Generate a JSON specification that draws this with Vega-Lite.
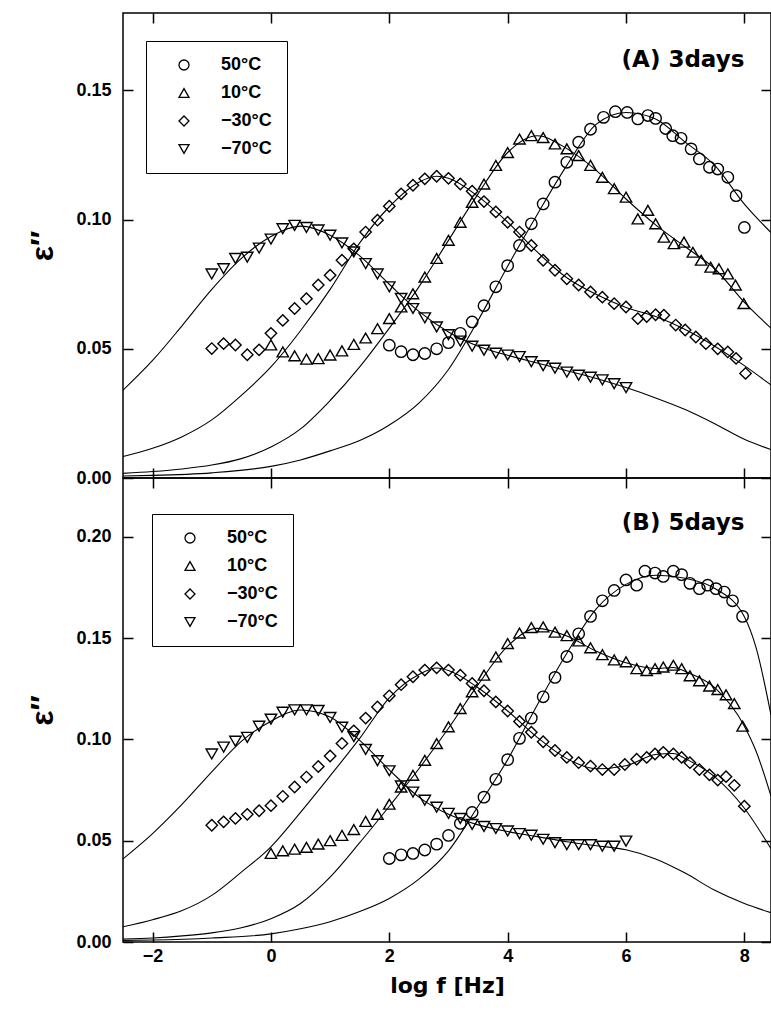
{
  "$schema": "https://vega.github.io/schema/vega-lite/v6.json",
  "background": "white",
  "padding": {"left": 26, "top": 11, "right": 0, "bottom": 5},
  "spacing": 0,
  "bounds": "flush",
  "config": {
    "view": {"stroke": "black", "strokeWidth": 1.5},
    "axis": {
      "grid": false, "domain": false, "offset": -10, "tickSize": 10, "tickWidth": 1.5, "tickColor": "black",
      "labelFont": "Liberation Sans", "labelFontWeight": "bold", "labelFontSize": 18, "labelColor": "black", "labelPadding": 12,
      "titleColor": "black"
    },
    "legend": {
      "strokeColor": "black", "padding": 15, "symbolOffset": 14, "labelOffset": 28, "rowPadding": 10,
      "labelFont": "Liberation Sans", "labelFontWeight": "bold", "labelFontSize": 18, "labelColor": "black",
      "symbolSize": 100, "symbolStrokeColor": "black", "symbolStrokeWidth": 1.3, "symbolFillColor": "transparent"
    }
  },
  "resolve": {"scale": {"shape": "independent"}},
  "datasets": {
    "labelA": [{"x": 8.0, "y": 0.162, "label": "(A) 3days"}],
    "labelB": [{"x": 8.0, "y": 0.207, "label": "(B) 5days"}],
    "curveA": [
      {"series": "-70", "x": -2.5, "y": 0.034}, {"series": "-70", "x": -2.0, "y": 0.0455}, {"series": "-70", "x": -1.5, "y": 0.059}, {"series": "-70", "x": -1.0, "y": 0.073}, {"series": "-70", "x": -0.5, "y": 0.085}, {"series": "-70", "x": 0.0, "y": 0.0935}, {"series": "-70", "x": 0.5, "y": 0.0975}, {"series": "-70", "x": 1.0, "y": 0.094}, {"series": "-70", "x": 1.5, "y": 0.086}, {"series": "-70", "x": 2.0, "y": 0.075}, {"series": "-70", "x": 2.5, "y": 0.0645}, {"series": "-70", "x": 3.0, "y": 0.0565}, {"series": "-70", "x": 3.5, "y": 0.051}, {"series": "-70", "x": 4.0, "y": 0.0475}, {"series": "-70", "x": 4.5, "y": 0.0445}, {"series": "-70", "x": 5.0, "y": 0.0415}, {"series": "-70", "x": 5.5, "y": 0.0385}, {"series": "-70", "x": 6.0, "y": 0.035}, {"series": "-70", "x": 6.5, "y": 0.031}, {"series": "-70", "x": 7.0, "y": 0.0265}, {"series": "-70", "x": 7.5, "y": 0.021}, {"series": "-70", "x": 8.0, "y": 0.015}, {"series": "-70", "x": 8.45, "y": 0.011},
      {"series": "-30", "x": -2.5, "y": 0.0083}, {"series": "-30", "x": -2.0, "y": 0.0115}, {"series": "-30", "x": -1.5, "y": 0.016}, {"series": "-30", "x": -1.0, "y": 0.0225}, {"series": "-30", "x": -0.5, "y": 0.032}, {"series": "-30", "x": 0.0, "y": 0.043}, {"series": "-30", "x": 0.5, "y": 0.057}, {"series": "-30", "x": 1.0, "y": 0.073}, {"series": "-30", "x": 1.5, "y": 0.091}, {"series": "-30", "x": 2.0, "y": 0.105}, {"series": "-30", "x": 2.5, "y": 0.1145}, {"series": "-30", "x": 2.8, "y": 0.1168}, {"series": "-30", "x": 3.0, "y": 0.116}, {"series": "-30", "x": 3.5, "y": 0.109}, {"series": "-30", "x": 4.0, "y": 0.099}, {"series": "-30", "x": 4.5, "y": 0.0875}, {"series": "-30", "x": 5.0, "y": 0.0775}, {"series": "-30", "x": 5.5, "y": 0.071}, {"series": "-30", "x": 6.0, "y": 0.066}, {"series": "-30", "x": 6.5, "y": 0.0625}, {"series": "-30", "x": 7.0, "y": 0.0575}, {"series": "-30", "x": 7.5, "y": 0.051}, {"series": "-30", "x": 8.0, "y": 0.0435}, {"series": "-30", "x": 8.45, "y": 0.036},
      {"series": "10", "x": -2.5, "y": 0.0018}, {"series": "10", "x": -2.0, "y": 0.0025}, {"series": "10", "x": -1.5, "y": 0.0035}, {"series": "10", "x": -1.0, "y": 0.005}, {"series": "10", "x": -0.5, "y": 0.0075}, {"series": "10", "x": 0.0, "y": 0.012}, {"series": "10", "x": 0.5, "y": 0.019}, {"series": "10", "x": 1.0, "y": 0.030}, {"series": "10", "x": 1.5, "y": 0.043}, {"series": "10", "x": 2.0, "y": 0.058}, {"series": "10", "x": 2.5, "y": 0.074}, {"series": "10", "x": 3.0, "y": 0.092}, {"series": "10", "x": 3.5, "y": 0.110}, {"series": "10", "x": 4.0, "y": 0.126}, {"series": "10", "x": 4.5, "y": 0.1325}, {"series": "10", "x": 5.0, "y": 0.1275}, {"series": "10", "x": 5.5, "y": 0.119}, {"series": "10", "x": 6.0, "y": 0.108}, {"series": "10", "x": 6.5, "y": 0.098}, {"series": "10", "x": 7.0, "y": 0.0895}, {"series": "10", "x": 7.5, "y": 0.081}, {"series": "10", "x": 8.0, "y": 0.068}, {"series": "10", "x": 8.45, "y": 0.058},
      {"series": "50", "x": -2.5, "y": 0.0008}, {"series": "50", "x": -2.0, "y": 0.001}, {"series": "50", "x": -1.0, "y": 0.002}, {"series": "50", "x": 0.0, "y": 0.0045}, {"series": "50", "x": 0.5, "y": 0.007}, {"series": "50", "x": 1.0, "y": 0.0105}, {"series": "50", "x": 1.5, "y": 0.0145}, {"series": "50", "x": 2.0, "y": 0.0205}, {"series": "50", "x": 2.5, "y": 0.029}, {"series": "50", "x": 3.0, "y": 0.042}, {"series": "50", "x": 3.5, "y": 0.061}, {"series": "50", "x": 4.0, "y": 0.082}, {"series": "50", "x": 4.5, "y": 0.102}, {"series": "50", "x": 5.0, "y": 0.121}, {"series": "50", "x": 5.5, "y": 0.137}, {"series": "50", "x": 6.0, "y": 0.1415}, {"series": "50", "x": 6.5, "y": 0.139}, {"series": "50", "x": 7.0, "y": 0.130}, {"series": "50", "x": 7.5, "y": 0.121}, {"series": "50", "x": 8.0, "y": 0.106}, {"series": "50", "x": 8.45, "y": 0.095}
    ],
    "curveB": [
      {"series": "-70", "x": -2.5, "y": 0.041}, {"series": "-70", "x": -2.0, "y": 0.0535}, {"series": "-70", "x": -1.5, "y": 0.068}, {"series": "-70", "x": -1.0, "y": 0.084}, {"series": "-70", "x": -0.5, "y": 0.099}, {"series": "-70", "x": 0.0, "y": 0.109}, {"series": "-70", "x": 0.5, "y": 0.1145}, {"series": "-70", "x": 1.0, "y": 0.111}, {"series": "-70", "x": 1.5, "y": 0.0995}, {"series": "-70", "x": 2.0, "y": 0.085}, {"series": "-70", "x": 2.5, "y": 0.0715}, {"series": "-70", "x": 3.0, "y": 0.063}, {"series": "-70", "x": 3.5, "y": 0.0578}, {"series": "-70", "x": 4.0, "y": 0.0545}, {"series": "-70", "x": 4.5, "y": 0.052}, {"series": "-70", "x": 5.0, "y": 0.0495}, {"series": "-70", "x": 5.5, "y": 0.0475}, {"series": "-70", "x": 6.0, "y": 0.0455}, {"series": "-70", "x": 6.5, "y": 0.041}, {"series": "-70", "x": 7.0, "y": 0.034}, {"series": "-70", "x": 7.5, "y": 0.0255}, {"series": "-70", "x": 8.0, "y": 0.019}, {"series": "-70", "x": 8.45, "y": 0.0145},
      {"series": "-30", "x": -2.5, "y": 0.0075}, {"series": "-30", "x": -2.0, "y": 0.011}, {"series": "-30", "x": -1.5, "y": 0.0155}, {"series": "-30", "x": -1.0, "y": 0.023}, {"series": "-30", "x": -0.5, "y": 0.0345}, {"series": "-30", "x": 0.0, "y": 0.047}, {"series": "-30", "x": 0.5, "y": 0.064}, {"series": "-30", "x": 1.0, "y": 0.082}, {"series": "-30", "x": 1.5, "y": 0.1005}, {"series": "-30", "x": 2.0, "y": 0.1205}, {"series": "-30", "x": 2.5, "y": 0.132}, {"series": "-30", "x": 2.8, "y": 0.1352}, {"series": "-30", "x": 3.0, "y": 0.134}, {"series": "-30", "x": 3.5, "y": 0.1255}, {"series": "-30", "x": 4.0, "y": 0.114}, {"series": "-30", "x": 4.5, "y": 0.101}, {"series": "-30", "x": 5.0, "y": 0.0905}, {"series": "-30", "x": 5.5, "y": 0.0855}, {"series": "-30", "x": 6.0, "y": 0.087}, {"series": "-30", "x": 6.5, "y": 0.0925}, {"series": "-30", "x": 6.8, "y": 0.093}, {"series": "-30", "x": 7.0, "y": 0.0905}, {"series": "-30", "x": 7.5, "y": 0.0815}, {"series": "-30", "x": 8.0, "y": 0.066}, {"series": "-30", "x": 8.45, "y": 0.046},
      {"series": "10", "x": -2.5, "y": 0.0015}, {"series": "10", "x": -2.0, "y": 0.002}, {"series": "10", "x": -1.5, "y": 0.003}, {"series": "10", "x": -1.0, "y": 0.0045}, {"series": "10", "x": -0.5, "y": 0.007}, {"series": "10", "x": 0.0, "y": 0.0115}, {"series": "10", "x": 0.5, "y": 0.019}, {"series": "10", "x": 1.0, "y": 0.032}, {"series": "10", "x": 1.5, "y": 0.049}, {"series": "10", "x": 2.0, "y": 0.067}, {"series": "10", "x": 2.5, "y": 0.0855}, {"series": "10", "x": 3.0, "y": 0.1055}, {"series": "10", "x": 3.5, "y": 0.127}, {"series": "10", "x": 4.0, "y": 0.146}, {"series": "10", "x": 4.5, "y": 0.1548}, {"series": "10", "x": 5.0, "y": 0.151}, {"series": "10", "x": 5.5, "y": 0.1435}, {"series": "10", "x": 6.0, "y": 0.1378}, {"series": "10", "x": 6.5, "y": 0.135}, {"series": "10", "x": 6.8, "y": 0.1355}, {"series": "10", "x": 7.0, "y": 0.1335}, {"series": "10", "x": 7.5, "y": 0.1255}, {"series": "10", "x": 8.0, "y": 0.1065}, {"series": "10", "x": 8.2, "y": 0.094}, {"series": "10", "x": 8.45, "y": 0.072},
      {"series": "50", "x": -2.5, "y": 0.0008}, {"series": "50", "x": -2.0, "y": 0.001}, {"series": "50", "x": -1.0, "y": 0.002}, {"series": "50", "x": 0.0, "y": 0.004}, {"series": "50", "x": 0.5, "y": 0.0065}, {"series": "50", "x": 1.0, "y": 0.010}, {"series": "50", "x": 1.5, "y": 0.015}, {"series": "50", "x": 2.0, "y": 0.0215}, {"series": "50", "x": 2.5, "y": 0.031}, {"series": "50", "x": 3.0, "y": 0.045}, {"series": "50", "x": 3.5, "y": 0.067}, {"series": "50", "x": 4.0, "y": 0.090}, {"series": "50", "x": 4.5, "y": 0.117}, {"series": "50", "x": 5.0, "y": 0.1425}, {"series": "50", "x": 5.5, "y": 0.1645}, {"series": "50", "x": 6.0, "y": 0.1765}, {"series": "50", "x": 6.5, "y": 0.181}, {"series": "50", "x": 7.0, "y": 0.1795}, {"series": "50", "x": 7.5, "y": 0.1745}, {"series": "50", "x": 8.0, "y": 0.1605}, {"series": "50", "x": 8.2, "y": 0.145}, {"series": "50", "x": 8.45, "y": 0.112}
    ],
    "ptsA": [
      {"series": "50°C", "x": 2.0, "y": 0.0514}, {"series": "50°C", "x": 2.2, "y": 0.0489}, {"series": "50°C", "x": 2.4, "y": 0.0477}, {"series": "50°C", "x": 2.6, "y": 0.0482}, {"series": "50°C", "x": 2.8, "y": 0.05}, {"series": "50°C", "x": 3.0, "y": 0.0524}, {"series": "50°C", "x": 3.2, "y": 0.056}, {"series": "50°C", "x": 3.4, "y": 0.0604}, {"series": "50°C", "x": 3.6, "y": 0.0667}, {"series": "50°C", "x": 3.8, "y": 0.074}, {"series": "50°C", "x": 4.0, "y": 0.0822}, {"series": "50°C", "x": 4.2, "y": 0.090}, {"series": "50°C", "x": 4.4, "y": 0.0984}, {"series": "50°C", "x": 4.6, "y": 0.1061}, {"series": "50°C", "x": 4.8, "y": 0.1145}, {"series": "50°C", "x": 5.0, "y": 0.1222}, {"series": "50°C", "x": 5.2, "y": 0.130}, {"series": "50°C", "x": 5.4, "y": 0.135}, {"series": "50°C", "x": 5.62, "y": 0.1396}, {"series": "50°C", "x": 5.82, "y": 0.1418}, {"series": "50°C", "x": 6.02, "y": 0.1415}, {"series": "50°C", "x": 6.2, "y": 0.139}, {"series": "50°C", "x": 6.37, "y": 0.1403}, {"series": "50°C", "x": 6.5, "y": 0.1392}, {"series": "50°C", "x": 6.67, "y": 0.1353}, {"series": "50°C", "x": 6.79, "y": 0.1325}, {"series": "50°C", "x": 6.93, "y": 0.1315}, {"series": "50°C", "x": 7.1, "y": 0.1274}, {"series": "50°C", "x": 7.24, "y": 0.1235}, {"series": "50°C", "x": 7.41, "y": 0.1203}, {"series": "50°C", "x": 7.55, "y": 0.1196}, {"series": "50°C", "x": 7.72, "y": 0.1164}, {"series": "50°C", "x": 7.86, "y": 0.1093}, {"series": "50°C", "x": 8.0, "y": 0.097},
      {"series": "10°C", "x": 0.0, "y": 0.0515}, {"series": "10°C", "x": 0.2, "y": 0.0488}, {"series": "10°C", "x": 0.4, "y": 0.0473}, {"series": "10°C", "x": 0.6, "y": 0.046}, {"series": "10°C", "x": 0.8, "y": 0.0462}, {"series": "10°C", "x": 1.0, "y": 0.0476}, {"series": "10°C", "x": 1.2, "y": 0.0492}, {"series": "10°C", "x": 1.4, "y": 0.0517}, {"series": "10°C", "x": 1.6, "y": 0.0542}, {"series": "10°C", "x": 1.8, "y": 0.0578}, {"series": "10°C", "x": 2.0, "y": 0.0617}, {"series": "10°C", "x": 2.2, "y": 0.0662}, {"series": "10°C", "x": 2.4, "y": 0.0713}, {"series": "10°C", "x": 2.6, "y": 0.0778}, {"series": "10°C", "x": 2.8, "y": 0.085}, {"series": "10°C", "x": 3.0, "y": 0.092}, {"series": "10°C", "x": 3.2, "y": 0.099}, {"series": "10°C", "x": 3.4, "y": 0.1067}, {"series": "10°C", "x": 3.6, "y": 0.1138}, {"series": "10°C", "x": 3.8, "y": 0.121}, {"series": "10°C", "x": 4.0, "y": 0.126}, {"series": "10°C", "x": 4.2, "y": 0.1312}, {"series": "10°C", "x": 4.4, "y": 0.1325}, {"series": "10°C", "x": 4.6, "y": 0.1318}, {"series": "10°C", "x": 4.8, "y": 0.1293}, {"series": "10°C", "x": 5.0, "y": 0.1274}, {"series": "10°C", "x": 5.2, "y": 0.1248}, {"series": "10°C", "x": 5.4, "y": 0.121}, {"series": "10°C", "x": 5.6, "y": 0.1164}, {"series": "10°C", "x": 5.8, "y": 0.112}, {"series": "10°C", "x": 6.0, "y": 0.1087}, {"series": "10°C", "x": 6.2, "y": 0.1003}, {"series": "10°C", "x": 6.37, "y": 0.1036}, {"series": "10°C", "x": 6.5, "y": 0.0984}, {"series": "10°C", "x": 6.64, "y": 0.0932}, {"series": "10°C", "x": 6.81, "y": 0.0907}, {"series": "10°C", "x": 6.98, "y": 0.0913}, {"series": "10°C", "x": 7.13, "y": 0.0874}, {"series": "10°C", "x": 7.27, "y": 0.0843}, {"series": "10°C", "x": 7.43, "y": 0.0816}, {"series": "10°C", "x": 7.57, "y": 0.081}, {"series": "10°C", "x": 7.72, "y": 0.079}, {"series": "10°C", "x": 7.85, "y": 0.0747}, {"series": "10°C", "x": 7.99, "y": 0.0675},
      {"series": "−30°C", "x": -1.0, "y": 0.0501}, {"series": "−30°C", "x": -0.8, "y": 0.052}, {"series": "−30°C", "x": -0.6, "y": 0.0515}, {"series": "−30°C", "x": -0.4, "y": 0.0477}, {"series": "−30°C", "x": -0.2, "y": 0.0496}, {"series": "−30°C", "x": 0.0, "y": 0.056}, {"series": "−30°C", "x": 0.2, "y": 0.061}, {"series": "−30°C", "x": 0.4, "y": 0.0656}, {"series": "−30°C", "x": 0.6, "y": 0.0694}, {"series": "−30°C", "x": 0.8, "y": 0.0747}, {"series": "−30°C", "x": 1.0, "y": 0.0785}, {"series": "−30°C", "x": 1.2, "y": 0.0843}, {"series": "−30°C", "x": 1.4, "y": 0.0887}, {"series": "−30°C", "x": 1.6, "y": 0.0952}, {"series": "−30°C", "x": 1.8, "y": 0.0998}, {"series": "−30°C", "x": 2.0, "y": 0.1052}, {"series": "−30°C", "x": 2.2, "y": 0.110}, {"series": "−30°C", "x": 2.4, "y": 0.1133}, {"series": "−30°C", "x": 2.6, "y": 0.1158}, {"series": "−30°C", "x": 2.8, "y": 0.1168}, {"series": "−30°C", "x": 3.0, "y": 0.116}, {"series": "−30°C", "x": 3.2, "y": 0.1138}, {"series": "−30°C", "x": 3.4, "y": 0.111}, {"series": "−30°C", "x": 3.6, "y": 0.107}, {"series": "−30°C", "x": 3.8, "y": 0.103}, {"series": "−30°C", "x": 4.0, "y": 0.099}, {"series": "−30°C", "x": 4.2, "y": 0.0952}, {"series": "−30°C", "x": 4.4, "y": 0.090}, {"series": "−30°C", "x": 4.6, "y": 0.0843}, {"series": "−30°C", "x": 4.8, "y": 0.0804}, {"series": "−30°C", "x": 5.0, "y": 0.0771}, {"series": "−30°C", "x": 5.2, "y": 0.0747}, {"series": "−30°C", "x": 5.4, "y": 0.072}, {"series": "−30°C", "x": 5.6, "y": 0.070}, {"series": "−30°C", "x": 5.8, "y": 0.0675}, {"series": "−30°C", "x": 6.0, "y": 0.0662}, {"series": "−30°C", "x": 6.2, "y": 0.0617}, {"series": "−30°C", "x": 6.35, "y": 0.0625}, {"series": "−30°C", "x": 6.5, "y": 0.0632}, {"series": "−30°C", "x": 6.64, "y": 0.063}, {"series": "−30°C", "x": 6.84, "y": 0.0592}, {"series": "−30°C", "x": 7.0, "y": 0.0573}, {"series": "−30°C", "x": 7.18, "y": 0.0546}, {"series": "−30°C", "x": 7.35, "y": 0.052}, {"series": "−30°C", "x": 7.55, "y": 0.050}, {"series": "−30°C", "x": 7.72, "y": 0.0488}, {"series": "−30°C", "x": 7.86, "y": 0.0463}, {"series": "−30°C", "x": 8.02, "y": 0.0405},
      {"series": "−70°C", "x": -1.0, "y": 0.079}, {"series": "−70°C", "x": -0.8, "y": 0.081}, {"series": "−70°C", "x": -0.6, "y": 0.085}, {"series": "−70°C", "x": -0.4, "y": 0.0855}, {"series": "−70°C", "x": -0.2, "y": 0.089}, {"series": "−70°C", "x": 0.0, "y": 0.0925}, {"series": "−70°C", "x": 0.2, "y": 0.0965}, {"series": "−70°C", "x": 0.4, "y": 0.0978}, {"series": "−70°C", "x": 0.6, "y": 0.097}, {"series": "−70°C", "x": 0.8, "y": 0.096}, {"series": "−70°C", "x": 1.0, "y": 0.094}, {"series": "−70°C", "x": 1.2, "y": 0.091}, {"series": "−70°C", "x": 1.4, "y": 0.0875}, {"series": "−70°C", "x": 1.6, "y": 0.083}, {"series": "−70°C", "x": 1.8, "y": 0.079}, {"series": "−70°C", "x": 2.0, "y": 0.074}, {"series": "−70°C", "x": 2.2, "y": 0.0695}, {"series": "−70°C", "x": 2.4, "y": 0.0656}, {"series": "−70°C", "x": 2.6, "y": 0.062}, {"series": "−70°C", "x": 2.8, "y": 0.0585}, {"series": "−70°C", "x": 3.0, "y": 0.0555}, {"series": "−70°C", "x": 3.2, "y": 0.053}, {"series": "−70°C", "x": 3.4, "y": 0.051}, {"series": "−70°C", "x": 3.6, "y": 0.0495}, {"series": "−70°C", "x": 3.8, "y": 0.0483}, {"series": "−70°C", "x": 4.0, "y": 0.0476}, {"series": "−70°C", "x": 4.2, "y": 0.047}, {"series": "−70°C", "x": 4.4, "y": 0.045}, {"series": "−70°C", "x": 4.6, "y": 0.0435}, {"series": "−70°C", "x": 4.8, "y": 0.0425}, {"series": "−70°C", "x": 5.0, "y": 0.041}, {"series": "−70°C", "x": 5.2, "y": 0.0398}, {"series": "−70°C", "x": 5.4, "y": 0.039}, {"series": "−70°C", "x": 5.6, "y": 0.038}, {"series": "−70°C", "x": 5.8, "y": 0.0365}, {"series": "−70°C", "x": 6.0, "y": 0.035}
    ],
    "ptsB": [
      {"series": "50°C", "x": 2.0, "y": 0.0412}, {"series": "50°C", "x": 2.2, "y": 0.043}, {"series": "50°C", "x": 2.4, "y": 0.0437}, {"series": "50°C", "x": 2.6, "y": 0.0454}, {"series": "50°C", "x": 2.8, "y": 0.0483}, {"series": "50°C", "x": 3.0, "y": 0.0526}, {"series": "50°C", "x": 3.2, "y": 0.0585}, {"series": "50°C", "x": 3.4, "y": 0.0639}, {"series": "50°C", "x": 3.6, "y": 0.0715}, {"series": "50°C", "x": 3.8, "y": 0.0803}, {"series": "50°C", "x": 4.0, "y": 0.090}, {"series": "50°C", "x": 4.2, "y": 0.1005}, {"series": "50°C", "x": 4.4, "y": 0.1105}, {"series": "50°C", "x": 4.6, "y": 0.121}, {"series": "50°C", "x": 4.8, "y": 0.1306}, {"series": "50°C", "x": 5.0, "y": 0.1409}, {"series": "50°C", "x": 5.2, "y": 0.1521}, {"series": "50°C", "x": 5.4, "y": 0.1607}, {"series": "50°C", "x": 5.6, "y": 0.1684}, {"series": "50°C", "x": 5.8, "y": 0.1735}, {"series": "50°C", "x": 6.0, "y": 0.1787}, {"series": "50°C", "x": 6.18, "y": 0.1761}, {"series": "50°C", "x": 6.32, "y": 0.183}, {"series": "50°C", "x": 6.49, "y": 0.1821}, {"series": "50°C", "x": 6.63, "y": 0.1804}, {"series": "50°C", "x": 6.8, "y": 0.183}, {"series": "50°C", "x": 6.94, "y": 0.1813}, {"series": "50°C", "x": 7.08, "y": 0.177}, {"series": "50°C", "x": 7.24, "y": 0.1744}, {"series": "50°C", "x": 7.38, "y": 0.1761}, {"series": "50°C", "x": 7.52, "y": 0.1744}, {"series": "50°C", "x": 7.66, "y": 0.1727}, {"series": "50°C", "x": 7.8, "y": 0.1684}, {"series": "50°C", "x": 7.97, "y": 0.1607},
      {"series": "10°C", "x": 0.0, "y": 0.0437}, {"series": "10°C", "x": 0.2, "y": 0.045}, {"series": "10°C", "x": 0.4, "y": 0.0458}, {"series": "10°C", "x": 0.6, "y": 0.0467}, {"series": "10°C", "x": 0.8, "y": 0.0483}, {"series": "10°C", "x": 1.0, "y": 0.050}, {"series": "10°C", "x": 1.2, "y": 0.0526}, {"series": "10°C", "x": 1.4, "y": 0.0555}, {"series": "10°C", "x": 1.6, "y": 0.0595}, {"series": "10°C", "x": 1.8, "y": 0.063}, {"series": "10°C", "x": 2.0, "y": 0.068}, {"series": "10°C", "x": 2.2, "y": 0.0765}, {"series": "10°C", "x": 2.4, "y": 0.0823}, {"series": "10°C", "x": 2.6, "y": 0.0897}, {"series": "10°C", "x": 2.8, "y": 0.0979}, {"series": "10°C", "x": 3.0, "y": 0.1062}, {"series": "10°C", "x": 3.2, "y": 0.1152}, {"series": "10°C", "x": 3.4, "y": 0.1235}, {"series": "10°C", "x": 3.6, "y": 0.1317}, {"series": "10°C", "x": 3.8, "y": 0.1407}, {"series": "10°C", "x": 4.0, "y": 0.1473}, {"series": "10°C", "x": 4.2, "y": 0.1525}, {"series": "10°C", "x": 4.4, "y": 0.1552}, {"series": "10°C", "x": 4.6, "y": 0.1555}, {"series": "10°C", "x": 4.8, "y": 0.1529}, {"series": "10°C", "x": 5.0, "y": 0.1512}, {"series": "10°C", "x": 5.2, "y": 0.1486}, {"series": "10°C", "x": 5.4, "y": 0.1452}, {"series": "10°C", "x": 5.6, "y": 0.1418}, {"series": "10°C", "x": 5.8, "y": 0.1392}, {"series": "10°C", "x": 6.0, "y": 0.1383}, {"series": "10°C", "x": 6.18, "y": 0.1349}, {"series": "10°C", "x": 6.35, "y": 0.134}, {"series": "10°C", "x": 6.49, "y": 0.1349}, {"series": "10°C", "x": 6.63, "y": 0.1357}, {"series": "10°C", "x": 6.8, "y": 0.1366}, {"series": "10°C", "x": 6.94, "y": 0.1349}, {"series": "10°C", "x": 7.08, "y": 0.1314}, {"series": "10°C", "x": 7.24, "y": 0.1289}, {"series": "10°C", "x": 7.41, "y": 0.1263}, {"series": "10°C", "x": 7.55, "y": 0.1246}, {"series": "10°C", "x": 7.69, "y": 0.122}, {"series": "10°C", "x": 7.83, "y": 0.1177}, {"series": "10°C", "x": 7.97, "y": 0.1065},
      {"series": "−30°C", "x": -1.0, "y": 0.0576}, {"series": "−30°C", "x": -0.8, "y": 0.0593}, {"series": "−30°C", "x": -0.6, "y": 0.061}, {"series": "−30°C", "x": -0.4, "y": 0.063}, {"series": "−30°C", "x": -0.2, "y": 0.0648}, {"series": "−30°C", "x": 0.0, "y": 0.0673}, {"series": "−30°C", "x": 0.2, "y": 0.0719}, {"series": "−30°C", "x": 0.4, "y": 0.0765}, {"series": "−30°C", "x": 0.6, "y": 0.0814}, {"series": "−30°C", "x": 0.8, "y": 0.0866}, {"series": "−30°C", "x": 1.0, "y": 0.0918}, {"series": "−30°C", "x": 1.2, "y": 0.098}, {"series": "−30°C", "x": 1.4, "y": 0.1042}, {"series": "−30°C", "x": 1.6, "y": 0.1105}, {"series": "−30°C", "x": 1.8, "y": 0.116}, {"series": "−30°C", "x": 2.0, "y": 0.1215}, {"series": "−30°C", "x": 2.2, "y": 0.127}, {"series": "−30°C", "x": 2.4, "y": 0.1309}, {"series": "−30°C", "x": 2.6, "y": 0.1342}, {"series": "−30°C", "x": 2.8, "y": 0.1353}, {"series": "−30°C", "x": 3.0, "y": 0.1342}, {"series": "−30°C", "x": 3.2, "y": 0.1317}, {"series": "−30°C", "x": 3.4, "y": 0.1276}, {"series": "−30°C", "x": 3.6, "y": 0.124}, {"series": "−30°C", "x": 3.8, "y": 0.1185}, {"series": "−30°C", "x": 4.0, "y": 0.114}, {"series": "−30°C", "x": 4.2, "y": 0.1088}, {"series": "−30°C", "x": 4.4, "y": 0.1035}, {"series": "−30°C", "x": 4.6, "y": 0.0988}, {"series": "−30°C", "x": 4.8, "y": 0.0945}, {"series": "−30°C", "x": 5.0, "y": 0.0911}, {"series": "−30°C", "x": 5.2, "y": 0.0885}, {"series": "−30°C", "x": 5.4, "y": 0.0868}, {"series": "−30°C", "x": 5.6, "y": 0.0851}, {"series": "−30°C", "x": 5.8, "y": 0.0851}, {"series": "−30°C", "x": 5.98, "y": 0.0876}, {"series": "−30°C", "x": 6.18, "y": 0.0902}, {"series": "−30°C", "x": 6.35, "y": 0.0911}, {"series": "−30°C", "x": 6.49, "y": 0.0928}, {"series": "−30°C", "x": 6.63, "y": 0.0936}, {"series": "−30°C", "x": 6.8, "y": 0.0928}, {"series": "−30°C", "x": 6.94, "y": 0.0911}, {"series": "−30°C", "x": 7.08, "y": 0.0885}, {"series": "−30°C", "x": 7.24, "y": 0.0851}, {"series": "−30°C", "x": 7.41, "y": 0.0825}, {"series": "−30°C", "x": 7.55, "y": 0.0799}, {"series": "−30°C", "x": 7.69, "y": 0.0816}, {"series": "−30°C", "x": 7.83, "y": 0.0773}, {"series": "−30°C", "x": 8.0, "y": 0.067},
      {"series": "−70°C", "x": -1.0, "y": 0.0928}, {"series": "−70°C", "x": -0.8, "y": 0.0962}, {"series": "−70°C", "x": -0.6, "y": 0.0991}, {"series": "−70°C", "x": -0.4, "y": 0.101}, {"series": "−70°C", "x": -0.2, "y": 0.1065}, {"series": "−70°C", "x": 0.0, "y": 0.110}, {"series": "−70°C", "x": 0.2, "y": 0.1134}, {"series": "−70°C", "x": 0.4, "y": 0.1146}, {"series": "−70°C", "x": 0.6, "y": 0.1146}, {"series": "−70°C", "x": 0.8, "y": 0.1143}, {"series": "−70°C", "x": 1.0, "y": 0.1108}, {"series": "−70°C", "x": 1.2, "y": 0.106}, {"series": "−70°C", "x": 1.4, "y": 0.1014}, {"series": "−70°C", "x": 1.6, "y": 0.095}, {"series": "−70°C", "x": 1.8, "y": 0.0895}, {"series": "−70°C", "x": 2.0, "y": 0.0845}, {"series": "−70°C", "x": 2.2, "y": 0.077}, {"series": "−70°C", "x": 2.4, "y": 0.074}, {"series": "−70°C", "x": 2.6, "y": 0.070}, {"series": "−70°C", "x": 2.8, "y": 0.0665}, {"series": "−70°C", "x": 3.0, "y": 0.0635}, {"series": "−70°C", "x": 3.2, "y": 0.061}, {"series": "−70°C", "x": 3.4, "y": 0.058}, {"series": "−70°C", "x": 3.6, "y": 0.057}, {"series": "−70°C", "x": 3.8, "y": 0.056}, {"series": "−70°C", "x": 4.0, "y": 0.0548}, {"series": "−70°C", "x": 4.2, "y": 0.0535}, {"series": "−70°C", "x": 4.4, "y": 0.0527}, {"series": "−70°C", "x": 4.6, "y": 0.0507}, {"series": "−70°C", "x": 4.8, "y": 0.049}, {"series": "−70°C", "x": 5.0, "y": 0.048}, {"series": "−70°C", "x": 5.2, "y": 0.048}, {"series": "−70°C", "x": 5.4, "y": 0.048}, {"series": "−70°C", "x": 5.6, "y": 0.0473}, {"series": "−70°C", "x": 5.8, "y": 0.0473}, {"series": "−70°C", "x": 6.0, "y": 0.0498}
    ]
  },
  "vconcat": [
    {
      "width": 648, "height": 465,
      "layer": [
        {
          "data": {"name": "curveA"},
          "mark": {"type": "line", "color": "black", "strokeWidth": 1.1, "interpolate": "monotone", "clip": true},
          "encoding": {
            "x": {"field": "x", "type": "quantitative", "scale": {"domain": [-2.5, 8.45], "nice": false, "zero": false},
                  "axis": {"orient": "bottom", "values": [-2, 0, 2, 4, 6, 8], "labels": false, "labelPadding": 0, "title": null}},
            "y": {"field": "y", "type": "quantitative", "scale": {"domain": [0, 0.18], "nice": false},
                  "axis": {"orient": "left", "values": [0, 0.05, 0.1, 0.15], "format": ".2f", "title": "ε″",
                           "titleFont": "Liberation Sans", "titleFontSize": 32, "titleFontWeight": "bold", "titlePadding": 16}},
            "detail": {"field": "series"}
          }
        },
        {
          "data": {"name": "ptsA"},
          "mark": {"type": "point", "filled": false, "color": "black", "strokeWidth": 1.4, "size": 130, "opacity": 1, "clip": true},
          "encoding": {
            "x": {"field": "x", "type": "quantitative", "scale": {"domain": [-2.5, 8.45], "nice": false, "zero": false},
                  "axis": {"orient": "top", "values": [-2, 0, 2, 4, 6, 8], "labels": false, "labelPadding": 0, "title": null}},
            "y": {"field": "y", "type": "quantitative", "scale": {"domain": [0, 0.18], "nice": false},
                  "axis": {"orient": "right", "values": [0, 0.05, 0.1, 0.15], "labels": false, "labelPadding": 0, "title": null}},
            "shape": {"field": "series", "type": "nominal",
                      "scale": {"domain": ["50°C", "10°C", "−30°C", "−70°C"], "range": ["circle", "triangle-up", "diamond", "triangle-down"]},
                      "legend": {"title": null, "orient": "none", "legendX": 23, "legendY": 28}}
          }
        },
        {
          "data": {"name": "labelA"},
          "mark": {"type": "text", "align": "right", "baseline": "middle", "font": "DejaVu Sans", "fontWeight": "bold", "fontSize": 23, "color": "black"},
          "encoding": {
            "x": {"field": "x", "type": "quantitative", "axis": null},
            "y": {"field": "y", "type": "quantitative", "axis": null},
            "text": {"field": "label"}
          }
        }
      ],
      "resolve": {"axis": {"x": "independent", "y": "independent"}}
    },
    {
      "width": 648, "height": 464,
      "layer": [
        {
          "data": {"name": "curveB"},
          "mark": {"type": "line", "color": "black", "strokeWidth": 1.1, "interpolate": "monotone", "clip": true},
          "encoding": {
            "x": {"field": "x", "type": "quantitative", "scale": {"domain": [-2.5, 8.45], "nice": false, "zero": false},
                  "axis": {"orient": "bottom", "values": [-2, 0, 2, 4, 6, 8], "title": "log f [Hz]", "labelPadding": 5,
                           "titleFont": "DejaVu Sans", "titleFontSize": 22, "titleFontWeight": "bold", "titlePadding": 10}},
            "y": {"field": "y", "type": "quantitative", "scale": {"domain": [0, 0.229], "nice": false},
                  "axis": {"orient": "left", "values": [0, 0.05, 0.1, 0.15, 0.2], "format": ".2f", "title": "ε″",
                           "titleFont": "Liberation Sans", "titleFontSize": 32, "titleFontWeight": "bold", "titlePadding": 16}},
            "detail": {"field": "series"}
          }
        },
        {
          "data": {"name": "ptsB"},
          "mark": {"type": "point", "filled": false, "color": "black", "strokeWidth": 1.4, "size": 130, "opacity": 1, "clip": true},
          "encoding": {
            "x": {"field": "x", "type": "quantitative", "scale": {"domain": [-2.5, 8.45], "nice": false, "zero": false},
                  "axis": {"orient": "top", "values": [-2, 0, 2, 4, 6, 8], "labels": false, "labelPadding": 0, "title": null}},
            "y": {"field": "y", "type": "quantitative", "scale": {"domain": [0, 0.229], "nice": false},
                  "axis": {"orient": "right", "values": [0, 0.05, 0.1, 0.15, 0.2], "labels": false, "labelPadding": 0, "title": null}},
            "shape": {"field": "series", "type": "nominal",
                      "scale": {"domain": ["50°C", "10°C", "−30°C", "−70°C"], "range": ["circle", "triangle-up", "diamond", "triangle-down"]},
                      "legend": {"title": null, "orient": "none", "legendX": 29, "legendY": 36}}
          }
        },
        {
          "data": {"name": "labelB"},
          "mark": {"type": "text", "align": "right", "baseline": "middle", "font": "DejaVu Sans", "fontWeight": "bold", "fontSize": 23, "color": "black"},
          "encoding": {
            "x": {"field": "x", "type": "quantitative", "axis": null},
            "y": {"field": "y", "type": "quantitative", "axis": null},
            "text": {"field": "label"}
          }
        }
      ],
      "resolve": {"axis": {"x": "independent", "y": "independent"}}
    }
  ]
}
